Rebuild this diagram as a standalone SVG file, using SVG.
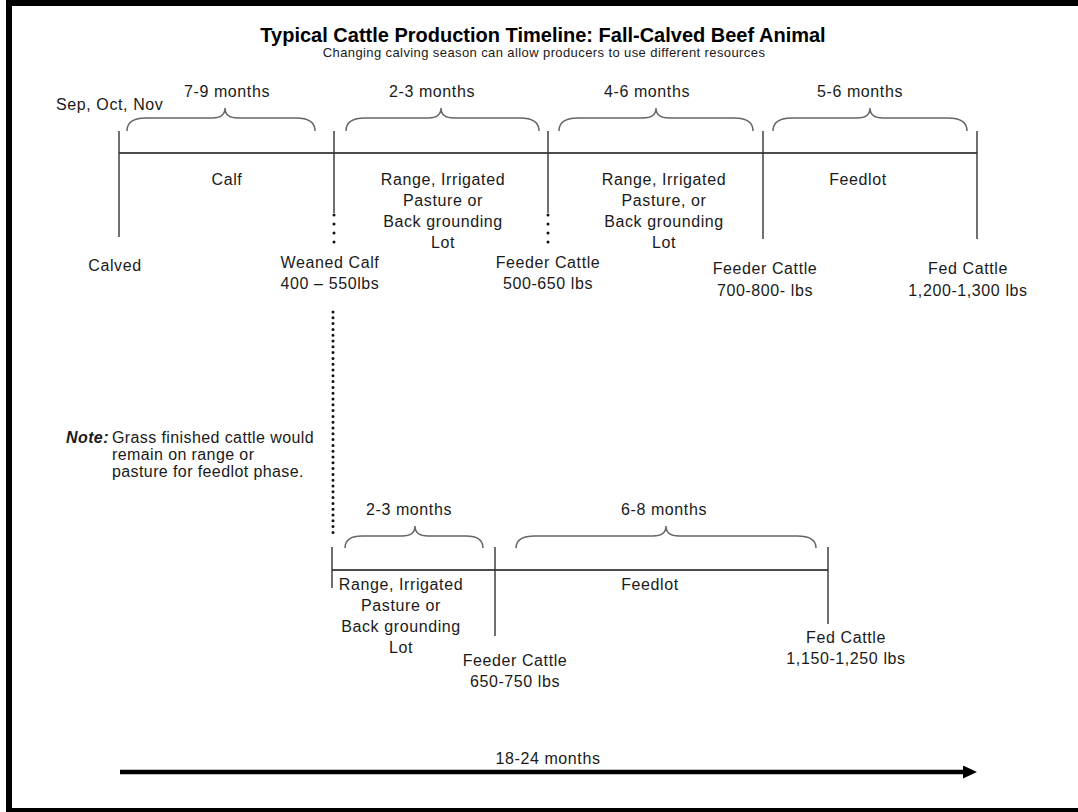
<svg xmlns="http://www.w3.org/2000/svg" width="1078" height="812" viewBox="0 0 1078 812">
<style>
text{font-family:"Liberation Sans",Arial,sans-serif;fill:#1a1a1a;}
.lbl{font-size:16px;text-anchor:middle;letter-spacing:0.6px;}
.ttl{font-size:20px;font-weight:bold;text-anchor:middle;fill:#000;}
.sub{font-size:13px;text-anchor:middle;letter-spacing:0.4px;}
.note{font-size:16px;letter-spacing:0.4px;}
.ln{stroke:#111;stroke-width:1.4;fill:none;}
.tk{stroke:#333;stroke-width:1.4;fill:none;}
.br{stroke:#666;stroke-width:1.5;fill:none;}
.dot{stroke:#111;stroke-width:3;stroke-linecap:round;fill:none;}
</style>
<defs>
<marker id="ah" markerWidth="14" markerHeight="13" refX="1" refY="6.5" orient="auto" markerUnits="userSpaceOnUse"><path d="M0,0 L14,6.5 L0,13 Z" fill="#000"/></marker>
</defs>
<rect x="0" y="0" width="1078" height="812" fill="#fff"/>
<rect id="frame" x="9" y="3" width="1085" height="808" fill="none" stroke="#000" stroke-width="6"/>
<g id="title">
<text class="ttl" x="543" y="42">Typical Cattle Production Timeline: Fall-Calved Beef Animal</text>
<text class="sub" x="544" y="57">Changing calving season can allow producers to use different resources</text>
</g>
<g id="connectors">
<line class="ln" x1="119" y1="153" x2="977" y2="153"/>
<line class="tk" x1="119" y1="131" x2="119" y2="237"/>
<line class="tk" x1="334" y1="131" x2="334" y2="213"/>
<line class="tk" x1="548" y1="131" x2="548" y2="213"/>
<line class="tk" x1="763" y1="131" x2="763" y2="239"/>
<line class="tk" x1="977" y1="131" x2="977" y2="239"/>
<line class="dot" x1="334" y1="215" x2="334" y2="243" stroke-dasharray="0 9"/>
<line class="dot" x1="548" y1="215" x2="548" y2="243" stroke-dasharray="0 9"/>
<line class="dot" x1="333" y1="312" x2="333" y2="538" stroke-dasharray="0 5.8"/>
<path class="br" d="M127,131 Q127,118 146,118 L212,118 Q225,118 225,108 Q225,118 238,118 L296,118 Q315,118 315,131"/>
<path class="br" d="M346,131 Q346,118 365,118 L428,118 Q441,118 441,108 Q441,118 454,118 L520,118 Q539,118 539,131"/>
<path class="br" d="M559,131 Q559,118 578,118 L643,118 Q656,118 656,108 Q656,118 669,118 L734,118 Q753,118 753,131"/>
<path class="br" d="M773,131 Q773,118 792,118 L857,118 Q870,118 870,108 Q870,118 883,118 L948,118 Q967,118 967,131"/>
<line class="ln" x1="332" y1="570" x2="828" y2="570"/>
<line class="tk" x1="332" y1="547" x2="332" y2="588"/>
<line class="tk" x1="495" y1="547" x2="495" y2="636"/>
<line class="tk" x1="828" y1="547" x2="828" y2="624"/>
<path class="br" d="M345,548 Q345,536 362,536 L402,536 Q415,536 415,526 Q415,536 428,536 L466,536 Q483,536 483,548"/>
<path class="br" d="M516,548 Q516,536 535,536 L653,536 Q666,536 666,526 Q666,536 679,536 L797,536 Q816,536 816,548"/>
<line x1="120" y1="772" x2="964" y2="772" stroke="#000" stroke-width="4.5" marker-end="url(#ah)"/>
</g>
<g id="durations">
<text class="lbl" x="56" y="110" style="text-anchor:start">Sep, Oct, Nov</text>
<text class="lbl" x="227" y="97">7-9 months</text>
<text class="lbl" x="432" y="97">2-3 months</text>
<text class="lbl" x="647" y="97">4-6 months</text>
<text class="lbl" x="860" y="97">5-6 months</text>
<text class="lbl" x="409" y="515">2-3 months</text>
<text class="lbl" x="664" y="515">6-8 months</text>
<text class="lbl" x="548" y="764">18-24 months</text>
</g>
<g id="phase-calf"><text class="lbl" x="227" y="185">Calf</text></g>
<g id="phase-range1"><text class="lbl" x="443" y="185">Range, Irrigated</text><text class="lbl" x="443" y="206">Pasture or</text><text class="lbl" x="443" y="227">Back grounding</text><text class="lbl" x="443" y="248">Lot</text></g>
<g id="phase-range2"><text class="lbl" x="664" y="185">Range, Irrigated</text><text class="lbl" x="664" y="206">Pasture, or</text><text class="lbl" x="664" y="227">Back grounding</text><text class="lbl" x="664" y="248">Lot</text></g>
<g id="phase-feedlot1"><text class="lbl" x="858" y="185">Feedlot</text></g>
<g id="node-calved"><text class="lbl" x="115" y="271">Calved</text></g>
<g id="node-weaned"><text class="lbl" x="330" y="268">Weaned Calf</text><text class="lbl" x="330" y="289">400 – 550lbs</text></g>
<g id="node-feeder1"><text class="lbl" x="548" y="268">Feeder Cattle</text><text class="lbl" x="548" y="289">500-650 lbs</text></g>
<g id="node-feeder2"><text class="lbl" x="765" y="274">Feeder Cattle</text><text class="lbl" x="765" y="296">700-800- lbs</text></g>
<g id="node-fed1"><text class="lbl" x="968" y="274">Fed Cattle</text><text class="lbl" x="968" y="296">1,200-1,300 lbs</text></g>
<g id="note">
<text class="note" x="66" y="443" style="font-weight:bold;font-style:italic">Note:</text>
<text class="note" x="112" y="443">Grass finished cattle would</text>
<text class="note" x="112" y="460">remain on range or</text>
<text class="note" x="112" y="477">pasture for feedlot phase.</text>
</g>
<g id="phase-range3"><text class="lbl" x="401" y="590">Range, Irrigated</text><text class="lbl" x="401" y="611">Pasture or</text><text class="lbl" x="401" y="632">Back grounding</text><text class="lbl" x="401" y="653">Lot</text></g>
<g id="phase-feedlot2"><text class="lbl" x="650" y="590">Feedlot</text></g>
<g id="node-feeder3"><text class="lbl" x="515" y="666">Feeder Cattle</text><text class="lbl" x="515" y="687">650-750 lbs</text></g>
<g id="node-fed2"><text class="lbl" x="846" y="643">Fed Cattle</text><text class="lbl" x="846" y="664">1,150-1,250 lbs</text></g>
</svg>
